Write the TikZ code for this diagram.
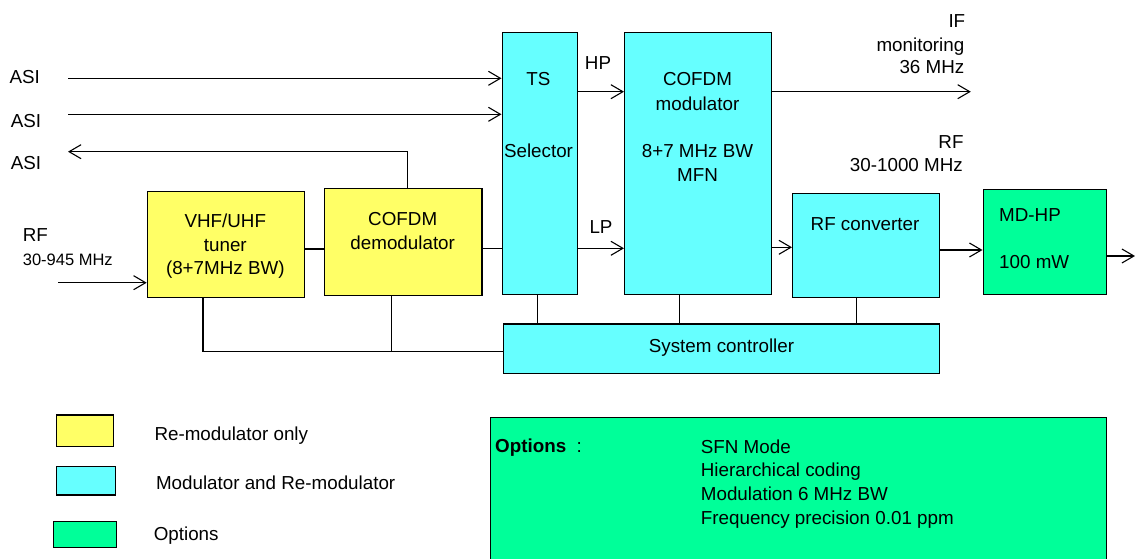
\documentclass[tikz,border=0pt]{standalone}
\usepackage{fontspec}
\setmainfont{Liberation Sans}
\usetikzlibrary{arrows.meta}
\definecolor{yel}{HTML}{FFFF66}
\definecolor{cya}{HTML}{66FFFF}
\definecolor{grn}{HTML}{00FF99}
\begin{document}
\begin{tikzpicture}[x=1pt,y=-1pt,
  font=\fontsize{18.8}{22}\selectfont,
  box/.style={draw=black, line width=1.4pt, inner sep=0pt, anchor=north west},
  ln/.style={line width=1.1pt},
  arr/.style={ln, -{Straight Barb[length=12pt,width=14pt,line width=1.1pt]}},
  tc/.style={inner sep=0pt, anchor=base},
  tw/.style={inner sep=0pt, anchor=base west},
  te/.style={inner sep=0pt, anchor=base east}]
\useasboundingbox (0,0) rectangle (1135,559);

% boxes
\node[box, fill=yel, minimum width=157.3pt, minimum height=106pt] (tuner) at (146.7,190.7) {};
\node[box, fill=yel, minimum width=157.3pt, minimum height=107pt] (demod) at (324,187.7) {};
\node[box, fill=cya, minimum width=75.5pt, minimum height=262.3pt] (sel) at (501.5,31.7) {};
\node[box, fill=cya, minimum width=147pt, minimum height=262.3pt] (mod) at (624,31.7) {};
\node[box, fill=cya, minimum width=147pt, minimum height=104pt] (rfc) at (792,192.7) {};
\node[box, fill=grn, minimum width=123pt, minimum height=105pt] (mdhp) at (982.5,189) {};
\node[box, fill=cya, minimum width=436.5pt, minimum height=49.4pt] (sys) at (502.5,323.3) {};

% legend
\node[box, fill=yel, minimum width=57.2pt, minimum height=31.7pt] (ly) at (55.8,414.3) {};
\node[box, fill=cya, minimum width=58.7pt, minimum height=28.3pt] (lc) at (55.8,466) {};
\node[box, fill=grn, minimum width=63pt, minimum height=26pt] (lg) at (52.9,520.7) {};

% options box (runs off the bottom)
\fill[grn] (490.6,417.7) rectangle (1106.5,559);
\draw[line width=1.4pt] (490.6,559) |- (1106.5,417.7) -- (1106.5,559);

% helper coordinates
\coordinate (a1) at (68,78.3);
\coordinate (a2) at (68,114.3);
\coordinate (a3) at (68,151.7);
\coordinate (rfin) at (58,282.7);
\coordinate (yHP) at (0,91.7);
\coordinate (yLP) at (0,248.3);
\coordinate (yMR) at (0,247.3);
\coordinate (yRM) at (0,250);
\coordinate (ySys) at (0,351.7);
\coordinate (ifout) at (970.8,91.7);
\coordinate (out) at (1135,256);
\coordinate (xT) at (203,0);
\coordinate (xD) at (391.3,0);
\coordinate (xS) at (537.7,0);
\coordinate (xM) at (679.7,0);
\coordinate (xR) at (856.5,0);

% connectors
\draw[arr] (a1) -- (a1 -| sel.west);
\draw[arr] (a2) -- (a2 -| sel.west);
\draw[arr] ([xshift=4pt]demod.north) |- (a3);
\draw[arr] (rfin) -- (rfin -| tuner.west);
\draw[ln] ([yshift=-4.6pt]tuner.east) -- ([yshift=-4.6pt]tuner.east -| demod.west);
\draw[ln] ([yshift=-6.5pt]demod.east) -- ([yshift=-6.5pt]demod.east -| sel.west);
\draw[arr] (sel.east |- yHP) -- (mod.west |- yHP);
\draw[arr] (sel.east |- yLP) -- (mod.west |- yLP);
\draw[arr] (mod.east |- ifout) -- (ifout);
\draw[arr] (mod.east |- yMR) -- (rfc.west |- yMR);
\draw[arr] (rfc.east |- yRM) -- (mdhp.west |- yRM);
\draw[arr] (mdhp.east |- out) -- (out);
\draw[ln] (tuner.south -| xT) |- (sys.west |- ySys);
\draw[ln] (demod.south -| xD) -- (xD |- ySys);
\draw[ln] (sel.south -| xS) -- (sys.north -| xS);
\draw[ln] (mod.south -| xM) -- (sys.north -| xM);
\draw[ln] (rfc.south -| xR) -- (sys.north -| xR);

% texts
\node[tw] (t1) at (9.3,84) {ASI};
\node[tw] (t2) at (10.7,128) {ASI};
\node[tw] (t3) at (10.7,169) {ASI};
\node[tw] (t4) at (22.7,241) {RF};
\node[tw, font=\fontsize{16.5}{20}\selectfont] (t5) at (22.7,265) {30-945 MHz};
\node[tc] (t6) at (225.3,227) {VHF/UHF};
\node[tc] (t7) at (225.3,251) {tuner};
\node[tc] (t8) at (225.3,274) {(8+7MHz BW)};
\node[tc] (t9) at (402.7,225.7) {COFDM};
\node[tc] (t10) at (402.7,249) {demodulator};
\node[tc] (t11) at (538.5,86) {TS};
\node[tc] (t12) at (538.5,157.3) {Selector};
\node[tc] (t13) at (598,70) {HP};
\node[tc] (t14) at (601,233.3) {LP};
\node[tc] (t15) at (697.5,86) {COFDM};
\node[tc] (t16) at (697.5,110.5) {modulator};
\node[tc] (t17) at (697.5,157.3) {8+7 MHz BW};
\node[tc] (t18) at (697.5,181) {MFN};
\node[te] (t19) at (965.4,27.3) {IF};
\node[te] (t20) at (964.5,51.7) {monitoring};
\node[te] (t21) at (964.5,74) {36 MHz};
\node[te] (t22) at (963.7,148.3) {RF};
\node[te] (t23) at (963,171.7) {30-1000 MHz};
\node[tc] (t24) at (865,230) {RF converter};
\node[tw] (t25) at (999,221) {MD-HP};
\node[tw] (t26) at (999,268.3) {100 mW};
\node[tc] (t27) at (721.5,352.7) {System controller};
\node[tw] (t28) at (154.3,440) {Re-modulator only};
\node[tw] (t29) at (155.8,489.3) {Modulator and Re-modulator};
\node[tw] (t30) at (153.6,540) {Options};
\node[tw] (t31) at (495,452.3) {\textbf{Options}~~:};
\node[tw] (t32) at (700.7,453.3) {SFN Mode};
\node[tw] (t33) at (700.7,476.7) {Hierarchical coding};
\node[tw] (t34) at (700.7,500) {Modulation 6 MHz BW};
\node[tw] (t35) at (700.7,524.3) {Frequency precision 0.01 ppm};
\end{tikzpicture}
\end{document}
